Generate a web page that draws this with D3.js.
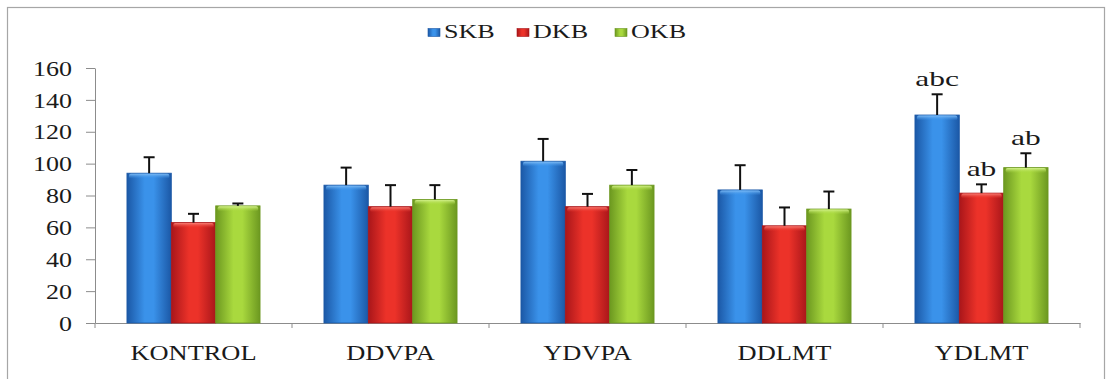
<!DOCTYPE html>
<html><head><meta charset="utf-8">
<script src="https://cdn.jsdelivr.net/npm/d3@7"></script>
<style>body{margin:0;background:#fff}svg{display:block}svg text{font-family:"Liberation Serif","Times New Roman",serif !important}</style>
</head><body>
<script>
const categories = ["KONTROL","DDVPA","YDVPA","DDLMT","YDLMT"];
const seriesNames = ["SKB","DKB","OKB"];
const skb = [94, 86.5, 101.5, 83.5, 130.5];
const skbErr = [10, 11, 14, 15.5, 13];
const dkb = [63, 73, 73, 61, 81.5];
const dkbErr = [5.5, 13.5, 8, 11.5, 5.5];
const okb = [73.5, 77.5, 86.5, 71.5, 97.5];
const okbErr = [1.5, 9, 9.5, 11, 9];
const yTicks = [0,20,40,60,80,100,120,140,160];
// significance letters: [category, series, text]
const letters = [["YDLMT","SKB","abc"],["YDLMT","DKB","ab"],["YDLMT","OKB","ab"]];

const values = {SKB: skb, DKB: dkb, OKB: okb};
const errs = {SKB: skbErr, DKB: dkbErr, OKB: okbErr};
const colors = {
  SKB: {edge:"#1b58a6", mid:"#3a92ea", top:"#7fbcf5"},
  DKB: {edge:"#a9161a", mid:"#ec3229", top:"#f77b72"},
  OKB: {edge:"#6c9820", mid:"#a9d93e", top:"#d2f08a"}
};

const W = 1107, H = 379;
const svg = d3.select("body").append("svg").attr("width", W).attr("height", H);
const defs = svg.append("defs");
seriesNames.forEach(s => {
  const g = defs.append("linearGradient").attr("id","g"+s).attr("x1","0").attr("x2","1").attr("y1","0").attr("y2","0");
  g.append("stop").attr("offset","0%").attr("stop-color",colors[s].edge);
  g.append("stop").attr("offset","40%").attr("stop-color",colors[s].mid);
  g.append("stop").attr("offset","60%").attr("stop-color",colors[s].mid);
  g.append("stop").attr("offset","100%").attr("stop-color",colors[s].edge);
  const t = defs.append("linearGradient").attr("id","t"+s).attr("x1","0").attr("x2","0").attr("y1","0").attr("y2","1");
  t.append("stop").attr("offset","0%").attr("stop-color",colors[s].top);
  t.append("stop").attr("offset","100%").attr("stop-color",colors[s].mid).attr("stop-opacity",0);
});

// frame
svg.append("rect").attr("x",7.5).attr("y",7.5).attr("width",1097).attr("height",H+10)
  .attr("fill","none").attr("stroke","#a6a6a6").attr("stroke-width",1.2);

const x = d3.scaleBand().domain(categories).range([95,1080]).padding(0);
const xi = d3.scaleBand().domain(seriesNames).range([0, x.bandwidth()]).paddingInner(0).paddingOuter(0.72);
const y = d3.scaleLinear().domain([0,160]).range([323,68]);

const font = '"Liberation Serif","Times New Roman",serif';

// Y axis
const ya = svg.append("g").attr("transform","translate(95,0)")
  .call(d3.axisLeft(y).tickValues(yTicks).tickSize(9).tickSizeOuter(0))
  .attr("font-family", font);
ya.select(".domain").attr("stroke","#8c8c8c");
ya.selectAll(".tick line").attr("stroke","#8c8c8c");
ya.selectAll(".tick text").attr("x",0).attr("dy","0.34em")
  .attr("transform","translate(-23,0) scale(1.24,1)")
  .style("font-family",font).style("font-size","21px").attr("fill","#1a1a1a");

// X axis
const xa = svg.append("g").attr("transform","translate(0,323)")
  .call(d3.axisBottom(x).tickSize(0).tickSizeOuter(0))
  .attr("font-family", font);
xa.select(".domain").attr("stroke","#8c8c8c");
xa.selectAll(".tick text").attr("y",0).attr("dy",0)
  .attr("transform","translate(0,37) scale(1.2,1)")
  .style("font-family",font).style("font-size","22px").attr("fill","#1a1a1a");
const bounds = categories.map(c => x(c)).concat([x(categories[categories.length-1]) + x.bandwidth()]);
xa.selectAll(".bt").data(bounds).join("line").attr("class","bt")
  .attr("x1",d=>d).attr("x2",d=>d).attr("y1",0).attr("y2",5).attr("stroke","#8c8c8c");

// bars
const rows = [];
categories.forEach((c,i) => seriesNames.forEach(s => rows.push({c, s, v: values[s][i], e: errs[s][i]})));
const bw = xi.bandwidth();
const bars = svg.append("g");
bars.selectAll("rect.bar").data(rows).join("rect").attr("class","bar")
  .attr("x", d => x(d.c) + xi(d.s)).attr("y", d => y(d.v))
  .attr("width", bw).attr("height", d => y(0) - y(d.v))
  .attr("fill", d => "url(#g"+d.s+")").attr("stroke", d => colors[d.s].edge).attr("stroke-width",0.8);
bars.selectAll("rect.top").data(rows).join("rect").attr("class","top")
  .attr("x", d => x(d.c) + xi(d.s) + 2).attr("y", d => y(d.v) + 0.5)
  .attr("width", bw - 4).attr("height", 5).attr("rx",2)
  .attr("fill", d => "url(#t"+d.s+")");

// error bars
const eb = svg.append("g").attr("stroke","#111").attr("stroke-width",2);
eb.selectAll("line.v").data(rows).join("line").attr("class","v")
  .attr("x1", d => x(d.c) + xi(d.s) + bw/2).attr("x2", d => x(d.c) + xi(d.s) + bw/2)
  .attr("y1", d => y(d.v)).attr("y2", d => y(d.v + d.e));
eb.selectAll("line.h").data(rows).join("line").attr("class","h")
  .attr("x1", d => x(d.c) + xi(d.s) + bw/2 - 5.5).attr("x2", d => x(d.c) + xi(d.s) + bw/2 + 5.5)
  .attr("y1", d => y(d.v + d.e)).attr("y2", d => y(d.v + d.e));

// letters
svg.append("g").selectAll("text").data(letters).join("text")
  .attr("transform", d => {
    const i = categories.indexOf(d[0]);
    const top = y(values[d[1]][i] + errs[d[1]][i]);
    return `translate(${x(d[0]) + xi(d[1]) + bw/2},${top - 8}) scale(1.5,1)`;
  })
  .attr("text-anchor","middle").style("font-family",font).style("font-size","21px").attr("fill","#1a1a1a")
  .text(d => d[2]);

// legend
const lx = d3.scaleOrdinal().domain(seriesNames).range([428, 517, 615]);
const lg = svg.append("g");
lg.selectAll("rect").data(seriesNames).join("rect")
  .attr("x", d => lx(d)).attr("y", 28.5).attr("width", 12).attr("height", 8)
  .attr("fill", d => "url(#g"+d+")").attr("stroke", d => colors[d].edge).attr("stroke-width",0.6);
lg.selectAll("text").data(seriesNames).join("text")
  .attr("transform", d => `translate(${lx(d) + 16},38) scale(1.45,1)`)
  .style("font-family",font).style("font-size","18px").attr("fill","#1a1a1a")
  .text(d => d);
</script>
</body></html>
